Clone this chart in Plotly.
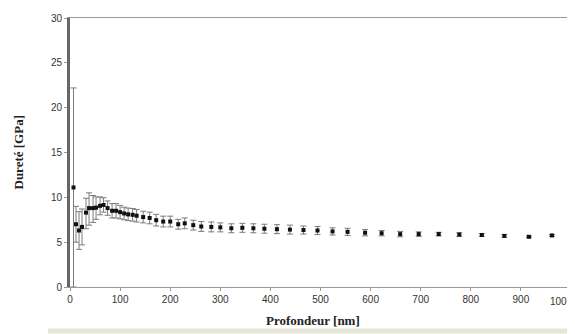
import plotly.graph_objects as go

# Data
depth_nm = [7, 12, 18, 24, 32, 38, 46, 52, 60, 67, 75, 84, 92, 100, 108, 116, 125, 133,
            146, 159, 172, 186, 200, 216, 229, 246, 262, 282, 300, 322, 344, 366, 388,
            413, 439, 466, 494, 524, 554, 589, 622, 659, 696, 736, 777, 822, 867, 916, 962]
hardness_gpa = [11.1, 7.0, 6.3, 6.7, 8.3, 8.8, 8.8, 8.85, 9.05, 9.15, 8.8, 8.5, 8.5, 8.35,
                8.2, 8.1, 8.05, 7.95, 7.8, 7.7, 7.45, 7.3, 7.3, 7.0, 7.1, 6.9, 6.75, 6.7,
                6.65, 6.55, 6.6, 6.55, 6.5, 6.45, 6.4, 6.35, 6.3, 6.2, 6.15, 6.05, 6.0,
                5.9, 5.9, 5.9, 5.85, 5.8, 5.7, 5.6, 5.75]
err_plus = [11.1, 2.0, 2.1, 2.0, 1.6, 1.7, 1.4, 1.2, 1.0, 0.8, 0.8, 0.8, 0.8, 0.75,
            0.7, 0.7, 0.7, 0.7, 0.65, 0.65, 0.65, 0.6, 0.6, 0.55, 0.6, 0.55, 0.55, 0.55,
            0.5, 0.5, 0.5, 0.5, 0.5, 0.5, 0.5, 0.45, 0.45, 0.4, 0.4, 0.35, 0.3,
            0.3, 0.25, 0.2, 0.2, 0.15, 0.15, 0.1, 0.1]
err_minus = [11.1, 2.0, 2.1, 2.0, 1.8, 1.9, 1.6, 1.3, 1.0, 0.8, 0.8, 0.8, 0.8, 0.75,
             0.7, 0.7, 0.7, 0.7, 0.65, 0.65, 0.65, 0.6, 0.6, 0.55, 0.6, 0.55, 0.55, 0.55,
             0.5, 0.5, 0.5, 0.5, 0.5, 0.5, 0.5, 0.45, 0.45, 0.4, 0.4, 0.35, 0.3,
             0.3, 0.25, 0.2, 0.2, 0.15, 0.15, 0.1, 0.1]

x_ticks = [0, 100, 200, 300, 400, 500, 600, 700, 800, 900, 1000]
x_tick_labels = ["0", "100", "200", "300", "400", "500", "600", "700", "800", "900", ""]
y_ticks = [0, 5, 10, 15, 20, 25, 30]

fig = go.Figure()
fig.add_trace(go.Scatter(
    x=depth_nm, y=hardness_gpa, mode="markers",
    marker=dict(symbol="square", size=4, color="#111111"),
    error_y=dict(type="data", symmetric=False, array=err_plus, arrayminus=err_minus,
                 color="#7a7a7a", thickness=1, width=3),
    showlegend=False, cliponaxis=False,
))

tick_font = dict(family="Liberation Sans, Arial, sans-serif", size=10, color="#333333")
title_font = dict(family="Liberation Serif, Times New Roman, serif", size=13, color="#222222")

PW, PH = 501, 272  # plot area size in px

fig.update_layout(
    width=567, height=326,
    margin=dict(l=62, r=4, t=7, b=47),
    paper_bgcolor="white", plot_bgcolor="white",
    xaxis=dict(range=[0, 1000], tickvals=x_ticks, ticktext=x_tick_labels,
               showline=True, linecolor="#999999", linewidth=1, mirror=True,
               ticks="outside", ticklen=3, tickcolor="#999999",
               showgrid=False, zeroline=False, tickfont=tick_font),
    yaxis=dict(range=[0, 30], tickvals=y_ticks, ticktext=[str(v) for v in y_ticks],
               showline=True, linecolor="#666666", linewidth=3,
               ticks="outside", ticklen=3, tickcolor="#999999",
               showgrid=False, zeroline=False, tickfont=tick_font),
    shapes=[
        dict(type="line", xref="paper", yref="paper", x0=1, x1=1, y0=0, y1=1,
             line=dict(color="#999999", width=1)),
        dict(type="rect", xref="paper", yref="paper", x0=-22/PW, x1=1.01,
             y0=-47/PH, y1=-42/PH, fillcolor="#e6e6d8", line=dict(width=0), layer="below"),
    ],
    annotations=[
        dict(text="<b>Dureté [GPa]</b>", xref="paper", yref="paper", x=-52/PW, y=0.5,
             textangle=-90, showarrow=False, font=title_font, xanchor="center", yanchor="middle"),
        dict(text="<b>Profondeur [nm]</b>", xref="paper", yref="paper", x=(313-70)/PW, y=-34/PH,
             showarrow=False, font=title_font, xanchor="center", yanchor="middle"),
        dict(text="1000", xref="paper", yref="paper", x=1.008, y=-15/PH,
             showarrow=False, font=tick_font, xanchor="right", yanchor="middle"),
    ],
)

fig.write_html("out.html")
